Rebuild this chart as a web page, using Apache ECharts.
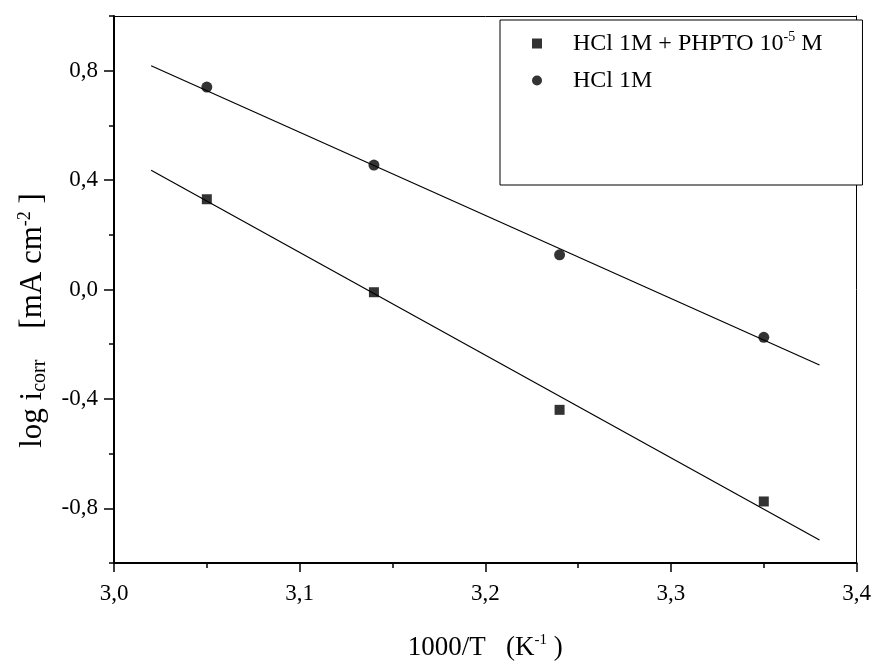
<!DOCTYPE html>
<html>
<head>
<meta charset="utf-8">
<script src="https://cdn.jsdelivr.net/npm/echarts@6/dist/echarts.min.js"></script>
<style>
  html, body { margin: 0; padding: 0; background: #fff; }
  #chart { width: 874px; height: 667px; }
</style>
</head>
<body>
<div id="chart"></div>
<script>
// values
const invTemp = [3.05, 3.14, 3.24, 3.35]
const logInhib = [0.33, -0.01, -0.44, -0.775]
const logBlank = [0.74, 0.455, 0.127, -0.175]

// fitted lines (end points)
const fitX = [3.02, 3.38]
const fitInhib = [0.436, -0.916]
const fitBlank = [0.818, -0.276]

const yLabelValues = [-0.8, -0.4, 0, 0.4, 0.8]

const nameInhib = 'HCl 1M + PHPTO 10-5 M'
const nameBlank = 'HCl 1M'

const font = '"Liberation Serif", "DejaVu Serif", serif'
const comma = v => v.toFixed(1).replace('.', ',')
const pairs = (xs, ys) => xs.map((x, i) => [x, ys[i]])

const chart = echarts.init(document.getElementById('chart'))

const option = {
  backgroundColor: '#fff',
  animation: false,
  grid: { left: 114, right: 16, top: 16, bottom: 104 },
  legend: {
    orient: 'vertical',
    left: 500,
    top: 20,
    padding: [10, 40, 91, 32],
    itemGap: 10,
    itemWidth: 10,
    itemHeight: 10,
    backgroundColor: '#fff',
    borderColor: '#000',
    borderWidth: 1,
    z: 10,
    data: [
      { name: nameInhib, icon: 'rect' },
      { name: nameBlank, icon: 'circle' }
    ],
    formatter: name => name === nameInhib
      ? '{g|}HCl 1M + PHPTO 10{sup|-5} M'
      : '{g|}HCl 1M',
    textStyle: {
      fontFamily: font,
      fontSize: 24,
      color: '#000',
      lineHeight: 27,
      rich: {
        g: { width: 26 },
        sup: { fontFamily: font, fontSize: 14, color: '#000', verticalAlign: 'top', lineHeight: 27 }
      }
    }
  },
  xAxis: [
    {
      type: 'value',
      position: 'bottom',
      min: 3.0,
      max: 3.4,
      interval: 0.1,
      axisLine: { show: true, onZero: false, lineStyle: { color: '#000', width: 2 } },
      axisTick: { show: true, length: 9, lineStyle: { color: '#000', width: 1.5 } },
      minorTick: { show: true, splitNumber: 2, length: 5, lineStyle: { color: '#000', width: 1.5 } },
      splitLine: { show: false },
      axisLabel: { formatter: comma, margin: 19, fontFamily: font, fontSize: 23, color: '#000' },
      name: '1000/T   (K{sup|-1} )',
      nameLocation: 'middle',
      nameGap: 70,
      nameTextStyle: {
        fontFamily: font, fontSize: 27, color: '#000',
        rich: { sup: { fontFamily: font, fontSize: 15, color: '#000', verticalAlign: 'top', lineHeight: 30 } }
      }
    },
    {
      type: 'value',
      position: 'top',
      min: 3.0,
      max: 3.4,
      axisLine: { show: true, onZero: false, lineStyle: { color: '#000', width: 1 } },
      axisTick: { show: false },
      axisLabel: { show: false },
      splitLine: { show: false }
    }
  ],
  yAxis: [
    {
      type: 'value',
      position: 'left',
      min: -1,
      max: 1,
      interval: 0.2,
      axisLine: { show: true, onZero: false, lineStyle: { color: '#000', width: 2 } },
      axisTick: { show: true, length: 5, lineStyle: { color: '#000', width: 1.5 } },
      axisLabel: { show: false },
      splitLine: { show: false },
      name: 'log i{sub|corr}    [mA cm{sup|-2} ]',
      nameLocation: 'middle',
      nameGap: 64,
      nameRotate: 90,
      nameTextStyle: {
        fontFamily: font, fontSize: 31, color: '#000',
        padding: [0, 62, 0, 0],
        rich: {
          sub: { fontFamily: font, fontSize: 20, color: '#000', verticalAlign: 'bottom', lineHeight: 34 },
          sup: { fontFamily: font, fontSize: 18, color: '#000', verticalAlign: 'top', lineHeight: 34 }
        }
      }
    },
    {
      type: 'value',
      position: 'left',
      min: -1,
      max: 1,
      axisLine: { show: false, onZero: false },
      axisTick: { show: true, customValues: yLabelValues, length: 10, lineStyle: { color: '#000', width: 1.5 } },
      axisLabel: { customValues: yLabelValues, formatter: comma, margin: 16, fontFamily: font, fontSize: 23, color: '#000' },
      splitLine: { show: false }
    },
    {
      type: 'value',
      position: 'right',
      min: -1,
      max: 1,
      axisLine: { show: true, onZero: false, lineStyle: { color: '#000', width: 1 } },
      axisTick: { show: false },
      axisLabel: { show: false },
      splitLine: { show: false }
    }
  ],
  series: [
    {
      name: 'fit inhib',
      type: 'line',
      data: pairs(fitX, fitInhib),
      showSymbol: false,
      symbol: 'none',
      lineStyle: { color: '#000', width: 1.2 },
      silent: true
    },
    {
      name: 'fit blank',
      type: 'line',
      data: pairs(fitX, fitBlank),
      showSymbol: false,
      symbol: 'none',
      lineStyle: { color: '#000', width: 1.2 },
      silent: true
    },
    {
      name: nameInhib,
      type: 'scatter',
      symbol: 'rect',
      symbolSize: 10,
      itemStyle: { color: '#000' },
      data: pairs(invTemp, logInhib),
      z: 3
    },
    {
      name: nameBlank,
      type: 'scatter',
      symbol: 'circle',
      symbolSize: 11,
      itemStyle: { color: '#000' },
      data: pairs(invTemp, logBlank),
      z: 3
    }
  ]
}

chart.setOption(option)
</script>
</body>
</html>
